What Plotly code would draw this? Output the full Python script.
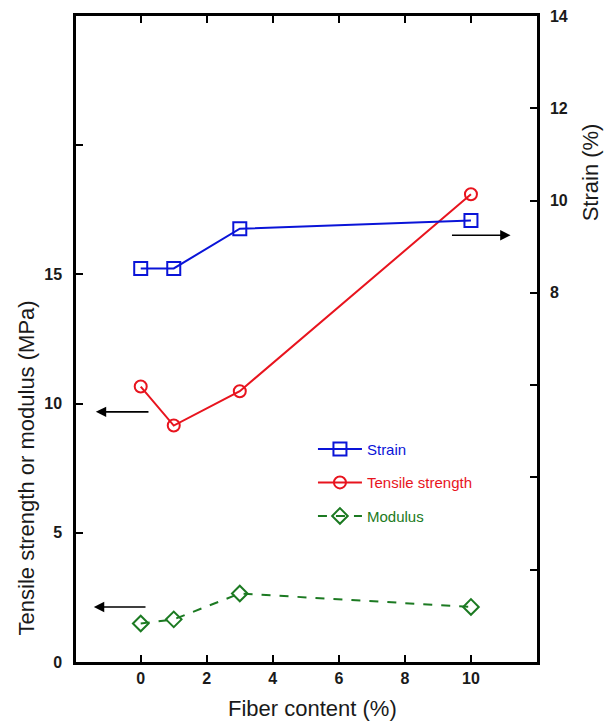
import plotly.graph_objects as go

fiber = [0, 1, 3, 10]
strain = [8.53, 8.53, 9.39, 9.57]
tensile = [10.66, 9.15, 10.48, 18.1]
modulus = [1.49, 1.65, 2.65, 2.13]

left_ticks = [0, 5, 10, 15, 20, 25]
left_labels = ["0", "5", "10", "15", "", ""]
right_ticks = [0, 2, 4, 6, 8, 10, 12, 14]
right_labels = ["", "", "", "", "8", "10", "12", "14"]
x_ticks = [0, 2, 4, 6, 8, 10]

BLUE = "#0a14d8"
RED = "#e8141e"
GREEN = "#1c7a22"
FONT = "Liberation Sans, Arial, sans-serif"

fig = go.Figure()
fig.add_trace(go.Scatter(
    x=fiber, y=strain, yaxis="y2", mode="lines+markers",
    name=f"<span style='color:{BLUE}'>Strain</span>", legendgroup="a",
    line=dict(color=BLUE, width=2),
    marker=dict(symbol="square-open", size=13, color=BLUE, line=dict(width=2))))
fig.add_trace(go.Scatter(
    x=fiber, y=tensile, mode="lines+markers",
    name=f"<span style='color:{RED}'>Tensile strength</span>", legendgroup="b",
    line=dict(color=RED, width=2),
    marker=dict(symbol="circle-open", size=12, color=RED, line=dict(width=2))))
fig.add_trace(go.Scatter(
    x=fiber, y=modulus, mode="lines+markers",
    name=f"<span style='color:{GREEN}'>Modulus</span>", legendgroup="c",
    line=dict(color=GREEN, width=2, dash="dash"),
    marker=dict(symbol="diamond-open", size=12, color=GREEN, line=dict(width=2))))

arrow = dict(showarrow=True, arrowhead=2, arrowsize=1.3, arrowwidth=1.6,
             arrowcolor="black", text="", axref="x", ayref="y")
fig.add_annotation(x=-1.36, y=9.68, ax=0.28, ay=9.68, **arrow)
fig.add_annotation(x=-1.42, y=2.13, ax=0.19, ay=2.13, **arrow)
fig.add_annotation(x=11.2, y=9.25, ax=9.38, ay=9.25, xref="x", yref="y2",
                   showarrow=True, arrowhead=2, arrowsize=1.3, arrowwidth=1.6,
                   arrowcolor="black", text="", axref="x", ayref="y2")

tickfont = dict(family=FONT, size=16, color="#1a1a1a", weight="bold")
titlefont = dict(family=FONT, size=22, color="#1a1a1a")

# axis titles
fig.add_annotation(text="Fiber content (%)", xref="paper", yref="paper",
                   x=0.514, y=-0.0717, showarrow=False, font=titlefont,
                   xanchor="center", yanchor="middle")
fig.add_annotation(text="Tensile strength or modulus (MPa)", xref="paper", yref="paper",
                   x=-0.108, y=0.3, showarrow=False, font=titlefont, textangle=-90,
                   xanchor="center", yanchor="middle")
fig.add_annotation(text="Strain (%)", xref="paper", yref="paper",
                   x=1.115, y=0.758, showarrow=False, font=titlefont, textangle=-90,
                   xanchor="center", yanchor="middle")

fig.update_layout(
    width=604, height=722,
    margin=dict(l=76, r=67, t=16, b=60),
    paper_bgcolor="white", plot_bgcolor="white",
    font=dict(family=FONT),
    xaxis=dict(range=[-1.96, 12.0], tickvals=x_ticks, ticks="inside",
               ticklen=7, tickwidth=2, tickcolor="black",
               showline=True, linecolor="black", linewidth=2.5, mirror="ticks",
               showgrid=False, zeroline=False, tickfont=tickfont,
               ticklabelstandoff=0, automargin=False),
    yaxis=dict(range=[0, 25], tickvals=left_ticks, ticktext=left_labels,
               ticks="inside", ticklen=7, tickwidth=2, tickcolor="black",
               showline=True, linecolor="black", linewidth=2.5,
               showgrid=False, zeroline=False, tickfont=tickfont,
               ticklabelstandoff=8, automargin=False),
    yaxis2=dict(range=[0, 14], overlaying="y", side="right",
                tickvals=right_ticks, ticktext=right_labels,
                ticks="inside", ticklen=7, tickwidth=2, tickcolor="black",
                showline=True, linecolor="black", linewidth=2.5,
                showgrid=False, zeroline=False, tickfont=tickfont,
                ticklabelstandoff=7, automargin=False),
    legend=dict(x=0.514, y=0.355, xanchor="left", yanchor="top",
                bgcolor="rgba(0,0,0,0)", font=dict(family=FONT, size=15),
                tracegroupgap=11, itemwidth=44),
    showlegend=True,
)

fig.write_html("out.html", config={"displayModeBar": False},
               post_script="document.body.style.margin='0px';")
